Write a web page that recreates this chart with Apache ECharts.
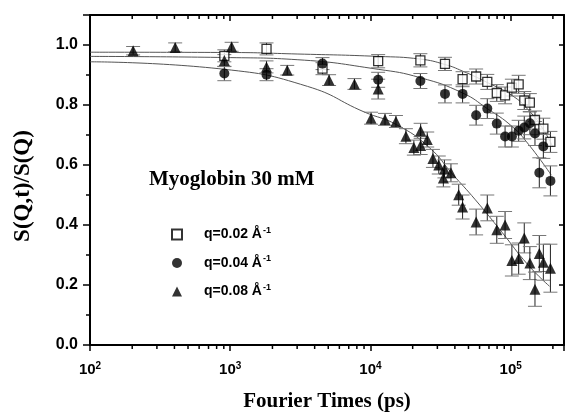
<!DOCTYPE html>
<html><head><meta charset="utf-8">
<script src="https://cdn.jsdelivr.net/npm/echarts/dist/echarts.min.js"></script>
<style>html,body{margin:0;padding:0;background:#fff}#c{width:567px;height:417px}</style>
</head><body><div id="c"></div>
<script>
// ---- data ----
const seriesNames = ['q=0.02 Å', 'q=0.04 Å', 'q=0.08 Å'];

const sqT   = [908, 1815, 4550, 11350, 22700, 34000, 45400, 56700, 68100, 79600, 91200, 102000, 114000, 125000, 137000, 149000, 171000, 192000];
const sqY   = [0.964, 0.987, 0.921, 0.946, 0.949, 0.937, 0.886, 0.895, 0.877, 0.840, 0.832, 0.858, 0.869, 0.815, 0.808, 0.750, 0.721, 0.677];
const sqErr = [0.02, 0.02, 0.02, 0.022, 0.022, 0.022, 0.025, 0.025, 0.025, 0.028, 0.028, 0.028, 0.03, 0.03, 0.03, 0.03, 0.035, 0.035];

const ciT   = [908, 1815, 4550, 11350, 22700, 34000, 45400, 56700, 68100, 79600, 91200, 102000, 114000, 125000, 137000, 149000, 160000, 171000, 192000];
const ciY   = [0.905, 0.901, 0.938, 0.884, 0.880, 0.837, 0.837, 0.766, 0.788, 0.738, 0.695, 0.695, 0.714, 0.725, 0.739, 0.705, 0.574, 0.662, 0.547];
const ciErr = [0.024, 0.02, 0.02, 0.025, 0.025, 0.03, 0.03, 0.033, 0.033, 0.035, 0.035, 0.035, 0.035, 0.038, 0.038, 0.04, 0.05, 0.04, 0.05];

const trT   = [203, 405, 908, 1023, 1815, 2550, 5070, 7690, 11350, 10100, 12700, 15200, 17900, 22800, 25400, 20400, 22800, 27900, 30700, 33700, 37500, 33100, 42600, 45400, 56700, 68100, 79600, 91200, 125000, 102000, 114000, 137000, 160000, 171000, 149000, 192000];
const trY   = [0.981, 0.992, 0.948, 0.994, 0.927, 0.916, 0.883, 0.870, 0.853, 0.756, 0.752, 0.745, 0.696, 0.714, 0.685, 0.658, 0.665, 0.622, 0.600, 0.587, 0.574, 0.557, 0.501, 0.460, 0.410, 0.457, 0.384, 0.400, 0.357, 0.282, 0.288, 0.273, 0.305, 0.276, 0.186, 0.256];
const trErr = [0.014, 0.015, 0.02, 0.015, 0.02, 0.016, 0.018, 0.018, 0.033, 0.02, 0.02, 0.02, 0.025, 0.025, 0.025, 0.025, 0.03, 0.03, 0.03, 0.03, 0.03, 0.03, 0.035, 0.04, 0.043, 0.043, 0.045, 0.045, 0.05, 0.052, 0.052, 0.055, 0.06, 0.06, 0.057, 0.08];

// fitted curves
const fitSqT = [100, 1000, 3000, 11350, 22700, 34000, 45400, 68100, 102000, 134000, 170000, 200000];
const fitSqY = [0.976, 0.975, 0.970, 0.962, 0.953, 0.935, 0.913, 0.875, 0.832, 0.783, 0.72, 0.66];
const fitCiT = [100, 1000, 3000, 11350, 22700, 45400, 68100, 102000, 134000, 195000];
const fitCiY = [0.962, 0.958, 0.951, 0.919, 0.891, 0.840, 0.788, 0.729, 0.669, 0.566];
const fitTrT = [100, 908, 3560, 9000, 15400, 26300, 38400, 56000, 86600, 133000, 189000];
const fitTrY = [0.944, 0.919, 0.862, 0.777, 0.734, 0.658, 0.570, 0.484, 0.376, 0.267, 0.196];

const xMinorTicks = [200,300,400,500,600,700,800,900,2000,3000,4000,5000,6000,7000,8000,9000,20000,30000,40000,50000,60000,70000,80000,90000,200000];
const yMinorTicks = [0.1, 0.3, 0.5, 0.7, 0.9];

const X_MIN = 100, X_MAX = 240000, Y_MIN = 0, Y_MAX = 1.1;

// ---- chart ----
const chart = echarts.init(document.getElementById('c'), null, {renderer: 'canvas'});
const sans = 'Liberation Sans', serif = 'Liberation Serif';

function zip(a, b) { return a.map((v, i) => [v, b[i]]); }
function errSeries(T, Y, E) {
  return {
    type: 'custom', silent: true, z: 2,
    data: T.map((t, i) => [t, Y[i] - E[i], Y[i] + E[i]]),
    encode: {x: 0, y: [1, 2]},
    renderItem: (p, api) => {
      const lo = api.coord([api.value(0), api.value(1)]);
      const hi = api.coord([api.value(0), api.value(2)]);
      const w = 7;
      return {type: 'group', children: [
        {type: 'line', shape: {x1: lo[0], y1: lo[1], x2: hi[0], y2: hi[1]}, style: {stroke: '#222', lineWidth: 1}},
        {type: 'line', shape: {x1: lo[0] - w, y1: lo[1], x2: lo[0] + w, y2: lo[1]}, style: {stroke: '#777', lineWidth: 1}},
        {type: 'line', shape: {x1: hi[0] - w, y1: hi[1], x2: hi[0] + w, y2: hi[1]}, style: {stroke: '#777', lineWidth: 1}}
      ]};
    }
  };
}
function fitSeries(T, Y) {
  return {type: 'line', data: zip(T, Y), showSymbol: false, smooth: true, silent: true, z: 1,
          lineStyle: {color: '#555', width: 1}};
}
const labelFmt = v => {
  const e = Math.log10(v);
  if (Math.abs(e - Math.round(e)) > 1e-6) return '';
  return '{b|10}{s|' + Math.round(e) + '}';
};

const option = {
  animation: false,
  backgroundColor: '#fff',
  grid: {left: 90, top: 15, right: -2, bottom: 66.5, containLabel: false},
  title: {text: 'Myoglobin 30 mM', left: 149, top: 169, padding: 0,
          textStyle: {fontFamily: serif, fontWeight: 'bold', fontSize: 21, color: '#000'}},
  legend: {
    orient: 'vertical', left: 166, top: 221, itemWidth: 10, itemHeight: 10, itemGap: 13,
    data: seriesNames, selectedMode: false,
    formatter: n => '{a|' + n + '}{s|-1}',
    textStyle: {color: '#000', rich: {
      a: {fontFamily: sans, fontWeight: 'bold', fontSize: 14, color: '#000', padding: [0, 0, 0, 17]},
      s: {fontFamily: sans, fontWeight: 'bold', fontSize: 9, color: '#000', verticalAlign: 'top', padding: [0, 0, 8, 1]}
    }}
  },
  xAxis: [{
    type: 'log', logBase: 10, min: X_MIN, max: X_MAX, position: 'bottom',
    name: 'Fourier Times (ps)', nameLocation: 'middle', nameGap: 46,
    nameTextStyle: {fontFamily: serif, fontWeight: 'bold', fontSize: 21, color: '#000'},
    axisLine: {show: true, onZero: false, lineStyle: {color: '#000', width: 2}},
    axisTick: {show: true, inside: false, length: 6, lineStyle: {color: '#000', width: 1.5}},
    splitLine: {show: false}, minorTick: {show: false},
    axisLabel: {formatter: labelFmt, margin: 16, rich: {
      b: {fontFamily: sans, fontWeight: 'bold', fontSize: 15, color: '#000'},
      s: {fontFamily: sans, fontWeight: 'bold', fontSize: 10, color: '#000', verticalAlign: 'top', padding: [0, 0, 8, 0]}
    }}
  }, {
    type: 'log', logBase: 10, min: X_MIN, max: X_MAX, position: 'top',
    axisLine: {show: true, onZero: false, lineStyle: {color: '#000', width: 2}},
    axisTick: {show: true, inside: true, length: 6, lineStyle: {color: '#000', width: 1.5}},
    axisLabel: {show: false}, splitLine: {show: false}
  }],
  yAxis: [{
    type: 'value', min: Y_MIN, max: Y_MAX, interval: 0.2, position: 'left',
    name: 'S(Q,t)/S(Q)', nameLocation: 'middle', nameGap: 55, nameRotate: 90,
    nameTextStyle: {fontFamily: serif, fontWeight: 'bold', fontSize: 23, color: '#000', padding: [0, 12, 0, 0]},
    axisLine: {show: true, onZero: false, lineStyle: {color: '#000', width: 2}},
    axisTick: {show: true, inside: false, length: 7, lineStyle: {color: '#000', width: 1.5}},
    splitLine: {show: false},
    axisLabel: {formatter: v => v > 1.05 ? '' : v.toFixed(1), margin: 12,
                fontFamily: sans, fontWeight: 'bold', fontSize: 16, color: '#000'}
  }, {
    type: 'value', min: Y_MIN, max: Y_MAX, interval: 0.2, position: 'right',
    axisLine: {show: true, onZero: false, lineStyle: {color: '#000', width: 2}},
    axisTick: {show: true, inside: true, length: 5, lineStyle: {color: '#000', width: 1.5}},
    axisLabel: {show: false}, splitLine: {show: false}
  }],
  series: [
    fitSeries(fitSqT, fitSqY), fitSeries(fitCiT, fitCiY), fitSeries(fitTrT, fitTrY),
    errSeries(sqT, sqY, sqErr), errSeries(ciT, ciY, ciErr), errSeries(trT, trY, trErr),
    {name: seriesNames[0], type: 'scatter', data: zip(sqT, sqY), symbol: 'rect', symbolSize: 9, z: 3,
     itemStyle: {color: '#fff', borderColor: '#000', borderWidth: 1.3}},
    {name: seriesNames[1], type: 'scatter', data: zip(ciT, ciY), symbol: 'circle', symbolSize: 10, z: 3,
     itemStyle: {color: '#000'}},
    {name: seriesNames[2], type: 'scatter', data: zip(trT, trY), symbol: 'triangle', symbolSize: 11, z: 3,
     itemStyle: {color: '#000'}},
    {type: 'custom', silent: true, z: 5, data: xMinorTicks.map(v => [v, Y_MIN]), encode: {x: 0, y: 1},
     renderItem: (p, api) => {
       const b = api.coord([api.value(0), Y_MIN]);
       const t = api.coord([api.value(0), Y_MAX]);
       return {type: 'group', children: [
         {type: 'line', shape: {x1: b[0], y1: b[1], x2: b[0], y2: b[1] + 4}, style: {stroke: '#000', lineWidth: 1.5}},
         {type: 'line', shape: {x1: t[0], y1: t[1], x2: t[0], y2: t[1] + 4}, style: {stroke: '#000', lineWidth: 1.5}}
       ]};
     }},
    {type: 'custom', silent: true, z: 5, data: yMinorTicks.map(v => [X_MIN, v]), encode: {x: 0, y: 1},
     renderItem: (p, api) => {
       const l = api.coord([X_MIN, api.value(1)]);
       return {type: 'line', shape: {x1: l[0], y1: l[1], x2: l[0] - 4, y2: l[1]}, style: {stroke: '#000', lineWidth: 1.5}};
     }}
  ]
};
chart.setOption(option);
</script></body></html>
